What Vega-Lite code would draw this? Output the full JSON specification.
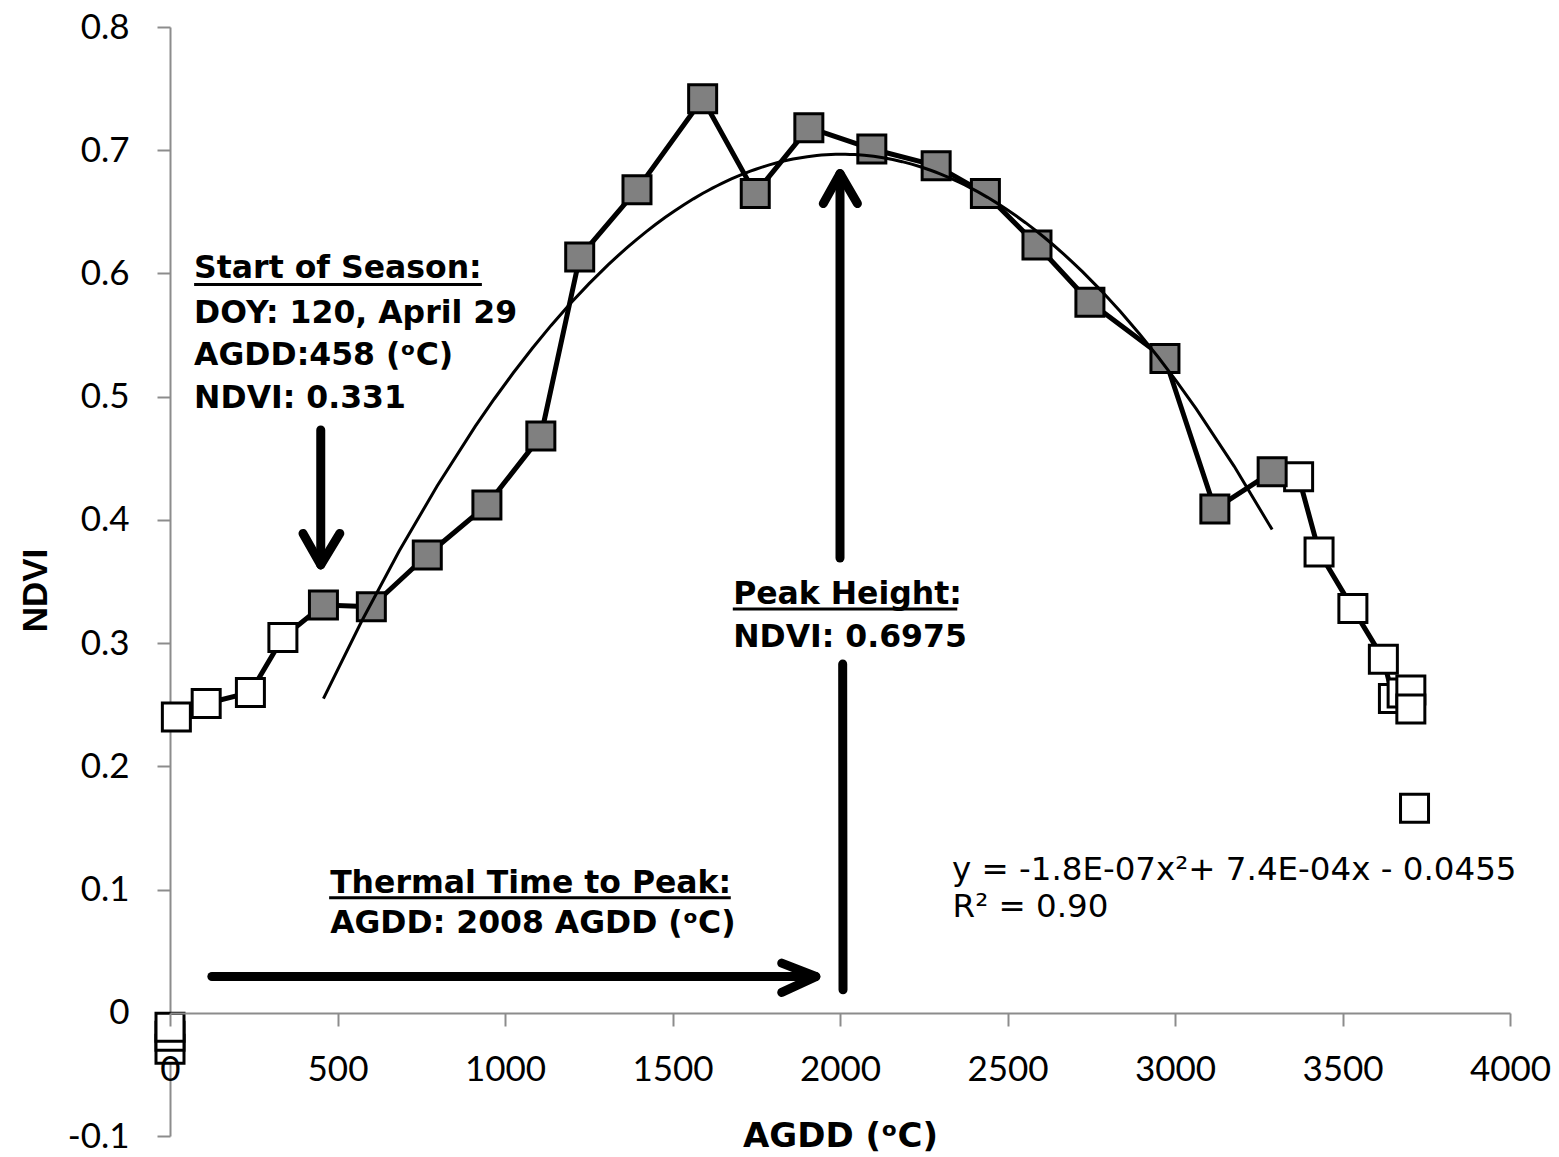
{
  "$schema": "https://vega.github.io/schema/vega-lite/v6.json",
  "width": 1340,
  "height": 1109,
  "autosize": {"type": "none"},
  "padding": {"left": 170, "top": 27, "right": 49, "bottom": 21},
  "background": "white",
  "config": {"view": {"stroke": null}},
  "datasets": {
    "obs": [
      {"i": 1, "agdd": 0, "ndvi": -0.0296, "phase": "dormant", "connected": false},
      {"i": 2, "agdd": 0, "ndvi": -0.019, "phase": "dormant", "connected": false},
      {"i": 3, "agdd": 0, "ndvi": -0.0118, "phase": "dormant", "connected": false},
      {"i": 4, "agdd": 19, "ndvi": 0.240, "phase": "pre", "connected": true},
      {"i": 5, "agdd": 108, "ndvi": 0.251, "phase": "pre", "connected": true},
      {"i": 6, "agdd": 240, "ndvi": 0.260, "phase": "pre", "connected": true},
      {"i": 7, "agdd": 337, "ndvi": 0.3045, "phase": "pre", "connected": true},
      {"i": 8, "agdd": 458, "ndvi": 0.331, "phase": "season", "connected": true},
      {"i": 9, "agdd": 601, "ndvi": 0.3295, "phase": "season", "connected": true},
      {"i": 10, "agdd": 768, "ndvi": 0.3715, "phase": "season", "connected": true},
      {"i": 11, "agdd": 946, "ndvi": 0.412, "phase": "season", "connected": true},
      {"i": 12, "agdd": 1107, "ndvi": 0.468, "phase": "season", "connected": true},
      {"i": 13, "agdd": 1223, "ndvi": 0.6134, "phase": "season", "connected": true},
      {"i": 14, "agdd": 1394, "ndvi": 0.668, "phase": "season", "connected": true},
      {"i": 15, "agdd": 1590, "ndvi": 0.7418, "phase": "season", "connected": true},
      {"i": 16, "agdd": 1747, "ndvi": 0.6648, "phase": "season", "connected": true},
      {"i": 17, "agdd": 1907, "ndvi": 0.7183, "phase": "season", "connected": true},
      {"i": 18, "agdd": 2095, "ndvi": 0.701, "phase": "season", "connected": true},
      {"i": 19, "agdd": 2287, "ndvi": 0.6875, "phase": "season", "connected": true},
      {"i": 20, "agdd": 2434, "ndvi": 0.6648, "phase": "season", "connected": true},
      {"i": 21, "agdd": 2588, "ndvi": 0.623, "phase": "season", "connected": true},
      {"i": 22, "agdd": 2746, "ndvi": 0.5766, "phase": "season", "connected": true},
      {"i": 23, "agdd": 2970, "ndvi": 0.531, "phase": "season", "connected": true},
      {"i": 24, "agdd": 3119, "ndvi": 0.4088, "phase": "season", "connected": true},
      {"i": 25, "agdd": 3290, "ndvi": 0.439, "phase": "season", "connected": true},
      {"i": 26, "agdd": 3369, "ndvi": 0.435, "phase": "post", "connected": true},
      {"i": 27, "agdd": 3430, "ndvi": 0.374, "phase": "post", "connected": true},
      {"i": 28, "agdd": 3531, "ndvi": 0.328, "phase": "post", "connected": true},
      {"i": 29, "agdd": 3622, "ndvi": 0.287, "phase": "post", "connected": true},
      {"i": 30, "agdd": 3652, "ndvi": 0.255, "phase": "post", "connected": true},
      {"i": 31, "agdd": 3678, "ndvi": 0.2595, "phase": "post", "connected": true},
      {"i": 32, "agdd": 3704, "ndvi": 0.262, "phase": "post", "connected": true},
      {"i": 33, "agdd": 3704, "ndvi": 0.2466, "phase": "post", "connected": true},
      {"i": 34, "agdd": 3715, "ndvi": 0.166, "phase": "post", "connected": false}
    ],
    "segments": [
      {"kind": "arrow", "agdd": 450, "ndvi": 0.473, "agdd2": 450, "ndvi2": 0.366},
      {"kind": "arrow", "agdd": 397, "ndvi": 0.389, "agdd2": 450, "ndvi2": 0.3635},
      {"kind": "arrow", "agdd": 507, "ndvi": 0.389, "agdd2": 450, "ndvi2": 0.3635},
      {"kind": "arrow", "agdd": 2000, "ndvi": 0.369, "agdd2": 2000, "ndvi2": 0.679},
      {"kind": "arrow", "agdd": 1950, "ndvi": 0.6567, "agdd2": 2000, "ndvi2": 0.681},
      {"kind": "arrow", "agdd": 2052, "ndvi": 0.6567, "agdd2": 2000, "ndvi2": 0.681},
      {"kind": "arrow", "agdd": 2009, "ndvi": 0.0187, "agdd2": 2008, "ndvi2": 0.283},
      {"kind": "arrow", "agdd": 125, "ndvi": 0.0294, "agdd2": 1920, "ndvi2": 0.0294},
      {"kind": "arrow", "agdd": 1826, "ndvi": 0.0403, "agdd2": 1928, "ndvi2": 0.0294},
      {"kind": "arrow", "agdd": 1826, "ndvi": 0.0165, "agdd2": 1928, "ndvi2": 0.0294},
      {"kind": "underline", "agdd": 72, "ndvi": 0.591, "agdd2": 931, "ndvi2": 0.591},
      {"kind": "underline", "agdd": 1680, "ndvi": 0.3277, "agdd2": 2350, "ndvi2": 0.3277},
      {"kind": "underline", "agdd": 475, "ndvi": 0.0933, "agdd2": 1674, "ndvi2": 0.0933}
    ],
    "labels": [
      {"kind": "bold", "agdd": 72, "ndvi": 0.596, "label": "Start of Season:"},
      {"kind": "bold", "agdd": 72, "ndvi": 0.560, "label": "DOY: 120, April 29"},
      {"kind": "bold", "agdd": 72, "ndvi": 0.5255, "label": "AGDD:458 (ᵒC)"},
      {"kind": "bold", "agdd": 72, "ndvi": 0.4907, "label": "NDVI: 0.331"},
      {"kind": "bold", "agdd": 1681, "ndvi": 0.3317, "label": "Peak Height:"},
      {"kind": "bold", "agdd": 1681, "ndvi": 0.2968, "label": "NDVI: 0.6975"},
      {"kind": "bold", "agdd": 478, "ndvi": 0.0971, "label": "Thermal Time to Peak:"},
      {"kind": "bold", "agdd": 478, "ndvi": 0.0649, "label": "AGDD: 2008 AGDD (ᵒC)"},
      {"kind": "regular", "agdd": 2334, "ndvi": 0.1079, "label": "y = -1.8E-07x²+ 7.4E-04x - 0.0455"},
      {"kind": "regular", "agdd": 2336, "ndvi": 0.0779, "label": "R² = 0.90"}
    ]
  },
  "encoding": {
    "x": {
      "field": "agdd",
      "type": "quantitative",
      "scale": {"domain": [0, 4000], "nice": false, "zero": false},
      "axis": {
        "title": "AGDD (ᵒC)",
        "values": [0, 500, 1000, 1500, 2000, 2500, 3000, 3500, 4000],
        "format": "d",
        "offset": -123,
        "grid": false,
        "domainColor": "#8c8c8c",
        "domainWidth": 2,
        "tickColor": "#8c8c8c",
        "tickWidth": 2,
        "tickSize": 13,
        "labelFont": "Lato",
        "labelFontSize": 35,
        "labelColor": "black",
        "labelPadding": 26,
        "labelFlush": false,
        "labelOverlap": false,
        "titleFont": "DejaVu Sans",
        "titleFontWeight": "bold",
        "titleFontSize": 34,
        "titleColor": "black",
        "titleBaseline": "alphabetic",
        "titleY": 133,
        "zindex": 1
      }
    },
    "y": {
      "field": "ndvi",
      "type": "quantitative",
      "scale": {"domain": [-0.1, 0.8], "nice": false, "zero": false},
      "axis": {
        "title": "NDVI",
        "values": [-0.1, 0, 0.1, 0.2, 0.3, 0.4, 0.5, 0.6, 0.7, 0.8],
        "labelExpr": "datum.value == 0 ? '0' : (datum.value < 0 ? '-' + format(abs(datum.value), '.1f') : format(datum.value, '.1f'))",
        "grid": false,
        "domainColor": "#8c8c8c",
        "domainWidth": 2,
        "tickColor": "#8c8c8c",
        "tickWidth": 2,
        "tickSize": 13,
        "labelFont": "Lato",
        "labelFontSize": 35,
        "labelColor": "black",
        "labelPadding": 28,
        "labelOverlap": false,
        "labelFlush": false,
        "titleFont": "Liberation Sans",
        "titleFontWeight": "bold",
        "titleFontSize": 35,
        "titleColor": "black",
        "titleBaseline": "alphabetic",
        "titleX": -124,
        "titleY": 563
      }
    }
  },
  "layer": [
    {
      "data": {"name": "obs"},
      "transform": [{"filter": "datum.connected"}],
      "mark": {"type": "line", "color": "black", "strokeWidth": 5, "strokeJoin": "round"},
      "encoding": {"order": {"field": "i", "type": "quantitative"}}
    },
    {
      "data": {"name": "obs"},
      "transform": [{"filter": "datum.phase != 'season'"}],
      "mark": {"type": "point", "shape": "square", "filled": true, "fill": "white", "stroke": "black", "strokeWidth": 3, "size": 784, "opacity": 1},
      "encoding": {}
    },
    {
      "data": {"name": "obs"},
      "transform": [{"filter": "datum.phase == 'season'"}],
      "mark": {"type": "point", "shape": "square", "filled": true, "fill": "#808080", "stroke": "black", "strokeWidth": 3, "size": 784, "opacity": 1},
      "encoding": {}
    },
    {
      "data": {"name": "obs"},
      "transform": [
        {"filter": "datum.phase == 'season'"},
        {"regression": "ndvi", "on": "agdd", "method": "poly", "order": 2, "extent": [458, 3290]}
      ],
      "mark": {"type": "line", "color": "black", "strokeWidth": 3},
      "encoding": {}
    },
    {
      "data": {"name": "segments"},
      "transform": [{"filter": "datum.kind == 'arrow'"}],
      "mark": {"type": "rule", "color": "black", "strokeWidth": 9, "strokeCap": "round"},
      "encoding": {
        "x2": {"field": "agdd2"},
        "y2": {"field": "ndvi2"}
      }
    },
    {
      "data": {"name": "segments"},
      "transform": [{"filter": "datum.kind == 'underline'"}],
      "mark": {"type": "rule", "color": "black", "strokeWidth": 3},
      "encoding": {
        "x2": {"field": "agdd2"},
        "y2": {"field": "ndvi2"}
      }
    },
    {
      "data": {"name": "labels"},
      "transform": [{"filter": "datum.kind == 'bold'"}],
      "mark": {"type": "text", "align": "left", "baseline": "alphabetic", "font": "DejaVu Sans", "fontWeight": "bold", "fontSize": 31.5, "color": "black"},
      "encoding": {"text": {"field": "label"}}
    },
    {
      "data": {"name": "labels"},
      "transform": [{"filter": "datum.kind == 'regular'"}],
      "mark": {"type": "text", "align": "left", "baseline": "alphabetic", "font": "DejaVu Sans", "fontSize": 32.5, "color": "black"},
      "encoding": {"text": {"field": "label"}}
    }
  ]
}
